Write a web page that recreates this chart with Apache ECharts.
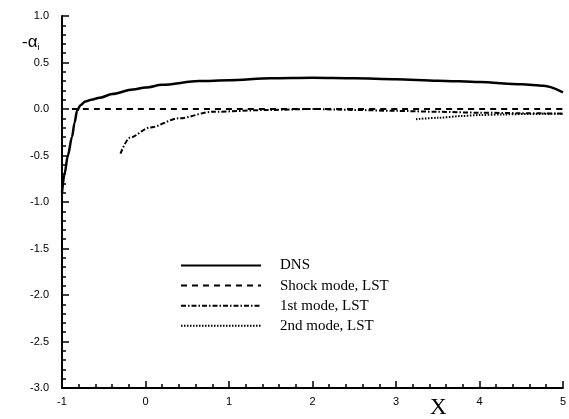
<!DOCTYPE html>
<html>
<head>
<meta charset="utf-8">
<script src="https://cdn.jsdelivr.net/npm/echarts@6/dist/echarts.min.js"></script>
<style>
  html, body { margin: 0; padding: 0; background: #fff; }
  #chart { width: 569px; height: 419px; }
</style>
</head>
<body>
<div id="chart"></div>
<script>
// values
const dnsX = [-1.0, -0.97, -0.93, -0.88, -0.85, -0.82, -0.78, -0.72, -0.65, -0.55, -0.4, -0.15, 0.0, 0.2, 0.64, 1.0, 1.5, 2.0, 2.5, 3.0, 3.5, 4.0, 4.5, 4.77, 5.0];
const dnsY = [-0.9, -0.7, -0.5, -0.3, -0.15, -0.02, 0.04, 0.08, 0.1, 0.12, 0.16, 0.21, 0.23, 0.26, 0.3, 0.31, 0.33, 0.335, 0.33, 0.32, 0.305, 0.29, 0.265, 0.25, 0.18];
const shockX = [-0.88, 5.0];
const shockY = [0.0, 0.0];
const mode1X = [-0.3, -0.19, 0.05, 0.4, 0.8, 1.5, 2.0, 2.5, 3.0, 3.5, 4.0, 4.5, 5.0];
const mode1Y = [-0.48, -0.31, -0.2, -0.1, -0.03, -0.01, 0.0, -0.01, -0.02, -0.03, -0.04, -0.045, -0.05];
const mode2X = [3.24, 3.5, 3.8, 4.0, 4.3, 4.6, 5.0];
const mode2Y = [-0.11, -0.095, -0.075, -0.065, -0.058, -0.053, -0.05];
const seriesNames = ["DNS", "Shock mode, LST", "1st mode, LST", "2nd mode, LST"];

const zip = (xs, ys) => xs.map((x, i) => [x, ys[i]]);

const chart = echarts.init(document.getElementById("chart"), null, { renderer: "canvas" });

const lineSeries = (name, xs, ys, width, type) => ({
  name: name,
  type: "line",
  data: zip(xs, ys),
  symbol: "none",
  smooth: 0.3,
  smoothMonotone: "x",
  z: 5,
  lineStyle: { color: "#000", width: width, type: type },
  itemStyle: { color: "#000" }
});

const option = {
  animation: false,
  backgroundColor: "#fff",
  grid: { left: 62, right: 3, top: 16, bottom: 31 },
  legend: {
    orient: "vertical",
    left: 175,
    top: 253,
    itemWidth: 80,
    itemHeight: 14,
    itemGap: 5.1,
    data: seriesNames,
    itemStyle: { color: "transparent", borderColor: "transparent", borderWidth: 0 },
    textStyle: { fontFamily: "Liberation Serif", fontSize: 15, color: "#000", padding: [0, 0, 0, 14] }
  },
  xAxis: {
    type: "value",
    min: -1, max: 5, interval: 1,
    axisLine: { onZero: false, lineStyle: { color: "#000", width: 2 } },
    axisTick: { inside: true, length: 7, lineStyle: { color: "#000", width: 1.5 } },
    minorTick: { show: true, splitNumber: 5, length: 4, lineStyle: { color: "#000", width: 1.5 } },
    splitLine: { show: false },
    axisLabel: { color: "#000", fontFamily: "Liberation Sans", fontSize: 11, margin: 8 }
  },
  yAxis: {
    type: "value",
    min: -3, max: 1, interval: 0.5,
    axisLine: { onZero: false, lineStyle: { color: "#000", width: 2 } },
    axisTick: { inside: true, length: 7, lineStyle: { color: "#000", width: 1.5 } },
    minorTick: { show: true, splitNumber: 5, length: 4, lineStyle: { color: "#000", width: 1.5 } },
    splitLine: { show: false },
    axisLabel: { color: "#000", fontFamily: "Liberation Sans", fontSize: 11, margin: 13,
      formatter: v => v.toFixed(1) }
  },
  graphic: [
    {
      type: "text", left: 22, top: 34,
      style: {
        text: "-α{s|i}",
        font: "17px Liberation Sans",
        fill: "#000",
        rich: { s: { fontSize: 9, fontFamily: "Liberation Sans", padding: [10, 0, 0, 0] } }
      }
    },
    {
      type: "text", left: 430, top: 396,
      style: { text: "X", font: "23px Liberation Serif", fill: "#000" }
    }
  ],
  series: [
    lineSeries(seriesNames[0], dnsX, dnsY, 2.5, "solid"),
    lineSeries(seriesNames[1], shockX, shockY, 2, [6, 5]),
    lineSeries(seriesNames[2], mode1X, mode1Y, 2, [5, 2, 1.5, 2]),
    lineSeries(seriesNames[3], mode2X, mode2Y, 2, [1.5, 1.5])
  ]
};

chart.setOption(option);
</script>
</body>
</html>
